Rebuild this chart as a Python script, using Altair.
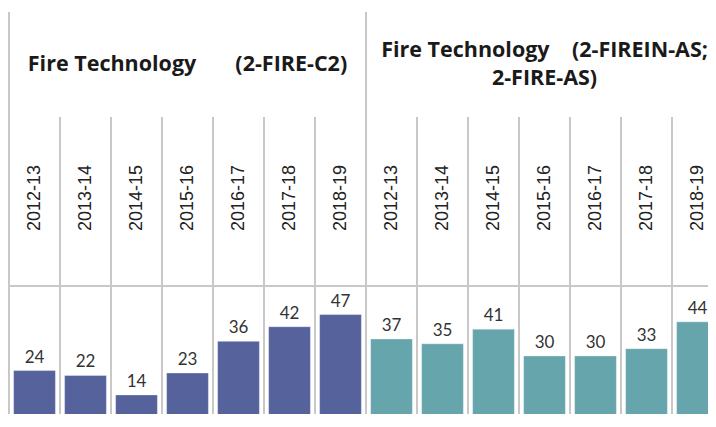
import altair as alt
import pandas as pd

years = ["2012-13", "2013-14", "2014-15", "2015-16", "2016-17", "2017-18", "2018-19"]
NB = "\u00a0"
programs = [
    "Fire Technology" + NB * 7 + "(2-FIRE-C2)",
    "Fire Technology" + NB * 4 + "(2-FIREIN-AS;\n2-FIRE-AS)",
]
values_c2 = [24, 22, 14, 23, 36, 42, 47]
values_as = [37, 35, 41, 30, 30, 33, 44]
colors = ["#56629c", "#67a5ad"]

rows = []
for p, vals in zip(programs, [values_c2, values_as]):
    for i, (y, v) in enumerate(zip(years, vals)):
        rows.append({"program": p, "year": y, "value": v, "key": f"{p}|{y}",
                     "first": i == 0, "middle": i == 3})
df = pd.DataFrame(rows)
order = list(df["key"])

W = 700          # visible plot width
H = 406          # visible plot height
FULL_W = 714     # the full two panels, partly beyond the visible edge
BASE = 421       # baseline of bars in chart pixels, below the visible edge
LH = 27.7
xs = alt.Scale(paddingInner=0, paddingOuter=0, range=[1, FULL_W + 1])
x = alt.X("key:N", sort=order, axis=None, scale=xs)
xb = alt.X("key:N", sort=order, axis=None, bandPosition=0, scale=xs)
yscale = alt.Scale(domain=[0, BASE / 2.435], range=[BASE, 0], nice=False)
grid = "#c8c8c8"

base = alt.Chart(df)

outer = base.transform_filter("datum.first").mark_rule(color=grid, strokeWidth=2).encode(
    x=xb, y=alt.value(4), y2=alt.value(H + 2))
inner = base.transform_filter("!datum.first").mark_rule(color=grid, strokeWidth=2).encode(
    x=xb, y=alt.value(109), y2=alt.value(H + 2))
hline = base.mark_rule(color=grid, strokeWidth=2).encode(
    x=alt.value(0), x2=alt.value(W + 2), y=alt.value(278))

bars = base.mark_bar(width=alt.RelativeBandSize(0.82), strokeWidth=1, strokeOpacity=0.35,
                     stroke="#ffffff").encode(
    x=x,
    y=alt.Y("value:Q", scale=yscale, axis=None),
    color=alt.Color("program:N", scale=alt.Scale(domain=programs, range=colors), legend=None),
)
labels = base.mark_text(font="Lato", fontSize=17, color="#333333", dy=-8,
                        baseline="alphabetic").encode(
    x=x, y=alt.Y("value:Q", scale=yscale), text="value:Q")

year_text = base.mark_text(font="Liberation Sans", fontSize=18, color="#222222", angle=270,
                           align="center", baseline="middle").encode(
    x=x, y=alt.value(190), text="year:N")

header = base.transform_filter("datum.middle").transform_calculate(
    hy=f"57 - (length(split(datum.program, '\\n')) - 1) * {LH / 2}"
).mark_text(
    font="Open Sans", fontWeight="bold", fontSize=21.5, color="#1a1a1a", align="center",
    baseline="middle", lineBreak="\n", lineHeight=LH).encode(
    x=x, y=alt.Y("hy:Q", scale=None), text="program:N")

chart = alt.layer(outer, inner, hline, bars, labels, year_text, header).properties(
    width=W, height=H, autosize=alt.AutoSizeParams(type="none"),
    padding={"left": 0, "top": 0, "right": 0, "bottom": 0},
).configure_view(stroke=None)

chart.save("out.html", embed_options={"renderer": "svg", "actions": False})
